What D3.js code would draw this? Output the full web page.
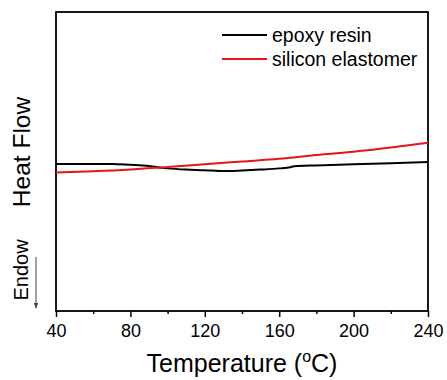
<!DOCTYPE html>
<html>
<head>
<meta charset="utf-8">
<script src="https://cdn.jsdelivr.net/npm/d3@7"></script>
<style>
  body { margin: 0; background: #fff; }
  text { font-family: "Liberation Sans", Arial, sans-serif; }
</style>
</head>
<body>
<div id="chart"></div>
<script>
// DSC curves, heat flow in arbitrary units (no y tick labels on the original)
const epoxyT    = [40, 50, 60, 70, 80, 90, 100, 110, 120, 130, 140, 150, 160, 166, 168, 180, 200, 220, 240];
const epoxyHF   = [4.92, 4.92, 4.92, 4.92, 4.89, 4.85, 4.77, 4.73, 4.71, 4.68, 4.70, 4.73, 4.77, 4.81, 4.84, 4.87, 4.91, 4.94, 4.98];
const siliconT  = [40, 60, 80, 100, 120, 140, 160, 180, 200, 220, 240];
const siliconHF = [4.63, 4.67, 4.73, 4.82, 4.91, 5.00, 5.09, 5.22, 5.33, 5.47, 5.63];
const seriesNames = ["epoxy resin", "silicon elastomer"];
const seriesColors = ["#000000", "#e8141a"];
const majorTicks = [40, 80, 120, 160, 200, 240];
const minorTicks = [60, 100, 140, 180, 220];

const w = 447, h = 380;
const m = {left: 56, right: 428, top: 12, bottom: 311};

const x = d3.scaleLinear().domain([40, 240]).range([m.left, m.right]);
const y = d3.scaleLinear().domain([0, 10]).range([m.bottom, m.top]);

const svg = d3.select("#chart").append("svg")
  .attr("width", w).attr("height", h);

// x axis: major ticks with labels, minor ticks without
svg.append("g")
  .attr("transform", "translate(0," + m.bottom + ")")
  .call(d3.axisBottom(x).tickValues(minorTicks).tickSize(3).tickFormat(""))
  .call(g => g.select(".domain").remove())
  .call(g => g.selectAll("line").attr("stroke-width", 1.5));

svg.append("g")
  .attr("transform", "translate(0," + m.bottom + ")")
  .call(d3.axisBottom(x).tickValues(majorTicks).tickSize(6).tickPadding(7).tickFormat(d3.format("d")))
  .call(g => g.select(".domain").remove())
  .call(g => g.selectAll("line").attr("stroke-width", 1.5))
  .call(g => g.selectAll("text").attr("font-size", 18).attr("fill", "#000")
    .attr("font-family", "'Liberation Sans', Arial, sans-serif"));

// frame
svg.append("rect")
  .attr("x", m.left).attr("y", m.top)
  .attr("width", m.right - m.left).attr("height", m.bottom - m.top)
  .attr("fill", "none").attr("stroke", "#000").attr("stroke-width", 1.8);

const line = d3.line()
  .x(d => x(d[0])).y(d => y(d[1]))
  .curve(d3.curveMonotoneX);

const series = [
  d3.zip(epoxyT, epoxyHF),
  d3.zip(siliconT, siliconHF)
];

svg.selectAll("path.curve")
  .data(series)
  .enter().append("path")
  .attr("class", "curve")
  .attr("d", line)
  .attr("fill", "none")
  .attr("stroke", (d, i) => seriesColors[i])
  .attr("stroke-width", 2);

// legend
const leg = svg.selectAll("g.leg")
  .data(seriesNames)
  .enter().append("g")
  .attr("class", "leg")
  .attr("transform", (d, i) => "translate(222," + (35 + i * 24) + ")");
leg.append("line")
  .attr("x1", 0).attr("x2", 45)
  .attr("stroke", (d, i) => seriesColors[i])
  .attr("stroke-width", 2.2);
leg.append("text")
  .attr("x", 50).attr("dy", "0.35em")
  .attr("font-size", 19.5)
  .text(d => d);

// axis titles
const xt = svg.append("text")
  .attr("x", (m.left + m.right) / 2).attr("y", 372)
  .attr("text-anchor", "middle")
  .attr("font-size", 25);
xt.append("tspan").text("Temperature (");
xt.append("tspan").attr("font-size", 16).attr("dy", -10).text("o");
xt.append("tspan").attr("dy", 10).text("C)");

svg.append("text")
  .attr("transform", "translate(30,152) rotate(-90)")
  .attr("text-anchor", "middle")
  .attr("font-size", 24.5)
  .text("Heat Flow");

svg.append("text")
  .attr("transform", "translate(28,270) rotate(-90)")
  .attr("text-anchor", "middle")
  .attr("font-size", 20)
  .text("Endow");

// endotherm arrow
svg.append("defs").append("marker")
  .attr("id", "arr").attr("viewBox", "0 0 10 10")
  .attr("refX", 9).attr("refY", 5)
  .attr("markerWidth", 6).attr("markerHeight", 6)
  .attr("orient", "auto")
  .append("path").attr("d", "M0,1 L10,5 L0,9 Z").attr("fill", "#444");

svg.append("line")
  .attr("x1", 36).attr("x2", 36)
  .attr("y1", 257).attr("y2", 308)
  .attr("stroke", "#444").attr("stroke-width", 1)
  .attr("marker-end", "url(#arr)");
</script>
</body>
</html>
